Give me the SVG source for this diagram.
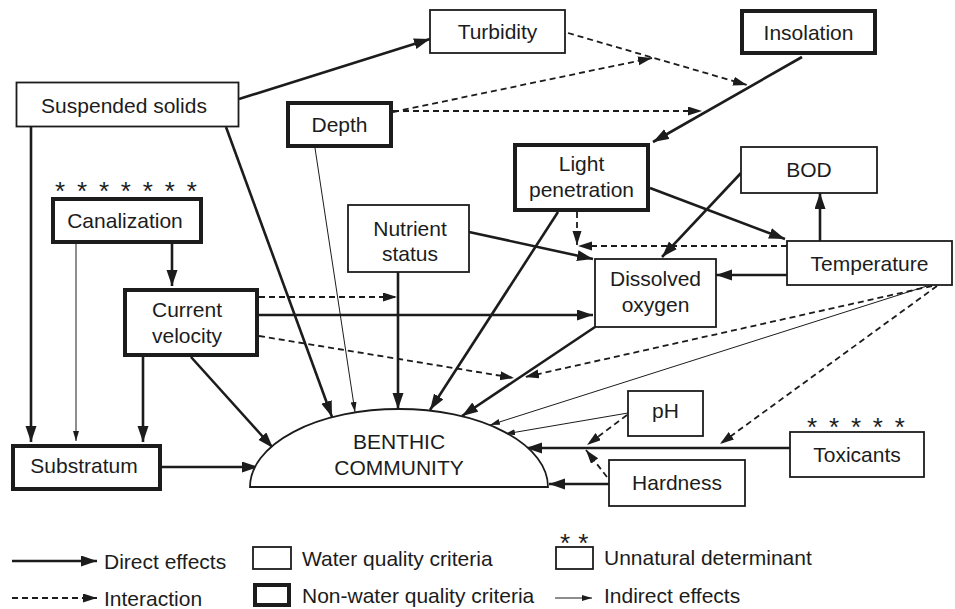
<svg xmlns="http://www.w3.org/2000/svg" width="955" height="609" viewBox="0 0 955 609">
<style>
.box{fill:#fff;stroke:#1c1c1c;stroke-width:1.8}
.tb{fill:#fff;stroke:#1c1c1c;stroke-width:4}
.lbl{font-family:"Liberation Sans",Arial,sans-serif;font-size:21px;fill:#1c1c1c;text-anchor:middle}
.leg{font-family:"Liberation Sans",Arial,sans-serif;font-size:21px;fill:#1c1c1c}
.star{font-family:"Liberation Sans",Arial,sans-serif;font-size:26px;fill:#1c1c1c;letter-spacing:2.3px}
.d{stroke:#1c1c1c;stroke-width:2.6;fill:none;marker-end:url(#ad)}
.i{stroke:#1c1c1c;stroke-width:1.8;fill:none;stroke-dasharray:6 4;marker-end:url(#ai)}
.n{stroke:#1c1c1c;stroke-width:1;fill:none;marker-end:url(#an)}
</style>
<defs>
<marker id="ad" markerUnits="userSpaceOnUse" markerWidth="18" markerHeight="12" refX="16" refY="5.5" orient="auto"><path d="M0,0 L16,5.5 L0,11 z" fill="#1c1c1c"/></marker>
<marker id="ai" markerUnits="userSpaceOnUse" markerWidth="16" markerHeight="10" refX="14" refY="4.5" orient="auto"><path d="M0,0 L14,4.5 L0,9 z" fill="#1c1c1c"/></marker>
<marker id="an" markerUnits="userSpaceOnUse" markerWidth="12" markerHeight="8" refX="10" refY="3" orient="auto"><path d="M0,0 L10,3 L0,6 z" fill="#1c1c1c"/></marker>
</defs>
<rect width="955" height="609" fill="#fff"/>

<g id="connectors">
<path class="d" d="M239,99 L430,39"/>
<path class="d" d="M802,57 L653,142"/>
<path class="d" d="M31,127 L31,442"/>
<path class="d" d="M226,127 L332,417"/>
<path class="d" d="M398,272 L398,409"/>
<path class="d" d="M558,212 L430,410"/>
<path class="d" d="M595,327 L462,416"/>
<path class="d" d="M790,448 L526,448"/>
<path class="d" d="M609,484 L549,484"/>
<path class="d" d="M160,467 L258,467"/>
<path class="d" d="M191,357 L273,448"/>
<path class="d" d="M259,315 L593,315"/>
<path class="d" d="M469,232 L593,259"/>
<path class="d" d="M650,188 L785,239"/>
<path class="d" d="M741,173 L662,257"/>
<path class="d" d="M820,241 L820,193"/>
<path class="d" d="M787,275 L716,275"/>
<path class="d" d="M172,244 L172,286"/>
<path class="d" d="M143,357 L143,442"/>
<path class="n" d="M76,244 L76,441"/>
<path class="n" d="M315,148 L355,412"/>
<path class="n" d="M927,286 L490,425"/>
<path class="n" d="M628,413 L505,434"/>
<path class="i" d="M568,33 L747,85"/>
<path class="i" d="M393,112 L652,58"/>
<path class="i" d="M393,111 L702,111"/>
<path class="i" d="M259,297 L397,297"/>
<path class="i" d="M259,336 L514,378"/>
<path class="i" d="M932,286 L525,377"/>
<path class="i" d="M937,286 L720,444"/>
<path class="i" d="M577,212 L577,245"/>
<path class="i" d="M787,246 L578,246"/>
<path class="i" d="M627,415 L587,445"/>
<path class="i" d="M607,477 L586,450"/>
</g>

<g id="turbidity"><rect class="box" x="430" y="10" width="135" height="43"/><text class="lbl" x="497.5" y="39">Turbidity</text></g>
<g id="insolation"><rect class="tb" x="742" y="11" width="133" height="42"/><text class="lbl" x="808.5" y="39.5">Insolation</text></g>
<g id="suspended-solids"><rect class="box" x="16.5" y="82.5" width="222" height="44"/><text class="lbl" x="124" y="113">Suspended solids</text></g>
<g id="depth"><rect class="tb" x="288" y="103" width="103" height="43"/><text class="lbl" x="339.5" y="132">Depth</text></g>
<g id="light-penetration"><rect class="tb" x="515" y="145" width="133" height="65"/><text class="lbl" x="581.5" y="171">Light</text><text class="lbl" x="581.5" y="196.5">penetration</text></g>
<g id="bod"><rect class="box" x="741" y="147" width="136" height="46"/><text class="lbl" x="809" y="177">BOD</text></g>
<g id="canalization"><text class="star" x="55" y="200">* * * * * * *</text><rect class="tb" x="53" y="199" width="148" height="43"/><text class="lbl" x="125" y="228">Canalization</text></g>
<g id="nutrient-status"><rect class="box" x="348" y="205" width="121" height="67"/><text class="lbl" x="410" y="236">Nutrient</text><text class="lbl" x="410" y="261">status</text></g>
<g id="current-velocity"><rect class="tb" x="125" y="290" width="132" height="65"/><text class="lbl" x="187" y="317">Current</text><text class="lbl" x="187" y="343">velocity</text></g>
<g id="dissolved-oxygen"><rect class="box" x="595" y="259" width="121" height="68"/><text class="lbl" x="655.5" y="286">Dissolved</text><text class="lbl" x="655.5" y="311.5">oxygen</text></g>
<g id="temperature"><rect class="box" x="787" y="241" width="165" height="44"/><text class="lbl" x="869.5" y="271">Temperature</text></g>
<g id="ph"><rect class="box" x="628" y="391" width="75" height="45"/><text class="lbl" x="665.5" y="418">pH</text></g>
<g id="toxicants"><text class="star" x="807" y="436">* * * * *</text><rect class="box" x="790" y="432" width="134" height="45"/><text class="lbl" x="857" y="462">Toxicants</text></g>
<g id="hardness"><rect class="box" x="609" y="460" width="136" height="46"/><text class="lbl" x="677" y="490">Hardness</text></g>
<g id="substratum"><rect class="tb" x="13" y="446" width="147" height="43"/><text class="lbl" x="84" y="473">Substratum</text></g>
<g id="benthic-community"><path d="M250,487 A149,78 0 0,1 548,487 Z" fill="#fff" stroke="#1c1c1c" stroke-width="1.8"/><text class="lbl" x="399" y="449">BENTHIC</text><text class="lbl" x="399" y="475">COMMUNITY</text></g>

<g id="legend">
<path class="d" d="M12,561 L97,561"/>
<text class="leg" x="104" y="569">Direct effects</text>
<path class="i" d="M12,598 L97,598"/>
<text class="leg" x="104" y="605.5">Interaction</text>
<rect class="box" x="253" y="547" width="38" height="22"/>
<text class="leg" x="302" y="566">Water quality criteria</text>
<rect class="tb" x="255" y="585" width="34" height="20"/>
<text class="leg" x="302" y="603">Non-water quality criteria</text>
<text class="star" x="560" y="552" style="letter-spacing:0.4px">* *</text>
<rect class="box" x="556" y="547" width="37" height="22"/>
<text class="leg" x="604" y="565">Unnatural determinant</text>
<path class="n" d="M555,598 L592,598"/>
<text class="leg" x="604" y="603">Indirect effects</text>
</g>
</svg>
